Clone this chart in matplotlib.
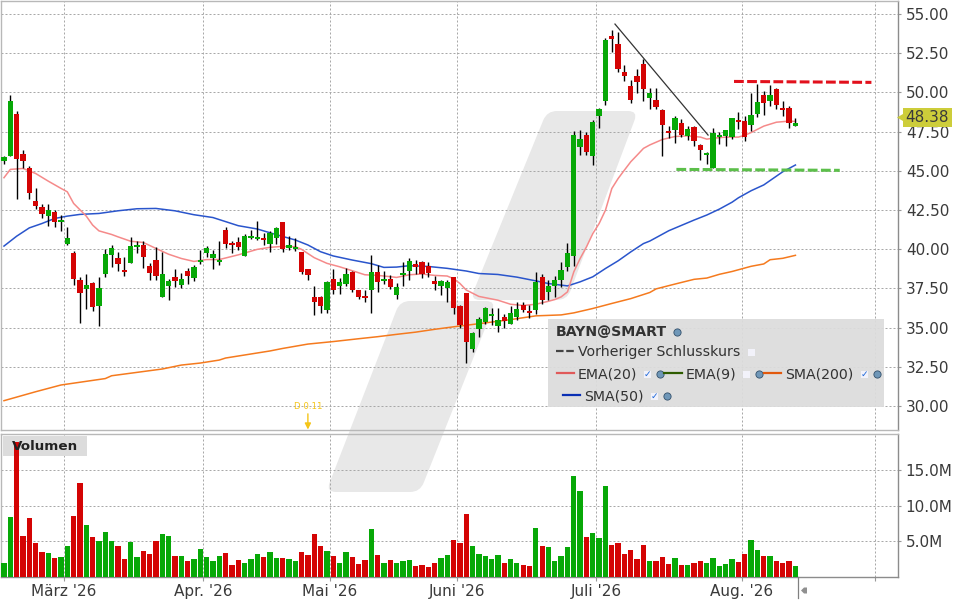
import matplotlib

matplotlib.use("Agg")
import matplotlib.pyplot as plt
from matplotlib.lines import Line2D
from matplotlib.patches import PathPatch, Polygon, Rectangle
from matplotlib.path import Path
from matplotlib.transforms import Affine2D

# candles, oldest first
opens = [45.62, 45.94, 48.62, 46.07, 45.15, 43.07, 42.68, 42.11, 42.36, 41.73,
         40.32, 39.75, 38.02, 37.45, 37.83, 36.36, 38.41, 39.62, 39.43, 38.66,
         39.11, 40.13, 40.26, 38.92, 39.30, 36.94, 37.64, 38.22, 37.70, 38.60,
         38.15, 39.17, 39.75, 39.43, 39.17, 41.21, 40.38, 40.45, 39.57, 40.71,
         40.65, 40.71, 40.33, 40.71, 41.74, 40.08, 39.99, 39.82, 38.74, 36.95,
         36.95, 36.12, 38.10, 37.65, 37.78, 38.54, 37.40, 37.01, 37.40, 38.54,
         37.97, 38.10, 37.08, 38.35, 38.61, 39.05, 39.18, 38.93, 37.97, 37.65,
         37.52, 38.23, 36.37, 37.20, 33.63, 34.91, 35.36, 35.73, 35.09, 35.66,
         35.22, 35.66, 36.43, 36.05, 36.11, 38.20, 37.26, 37.64, 38.02, 38.85,
         39.56, 46.51, 47.28, 45.94, 48.49, 49.45, 53.60, 53.09, 51.30, 50.41,
         51.05, 51.81, 49.64, 49.51, 48.87, 47.53, 47.59, 48.04, 47.21, 47.78,
         46.63, 46.00, 45.17, 47.15, 47.21, 47.15, 48.23, 48.17, 47.91, 48.61,
         49.83, 49.45, 50.21, 49.00, 49.00, 47.85]
highs = [45.94, 49.83, 48.81, 46.32, 45.30, 43.90, 42.87, 42.87, 42.49, 42.17,
         41.41, 39.88, 38.22, 38.41, 37.90, 38.22, 40.00, 40.26, 39.81, 39.49,
         40.77, 40.51, 40.51, 39.11, 40.13, 39.81, 38.09, 38.73, 38.47, 38.79,
         38.98, 39.94, 40.19, 39.94, 40.51, 41.41, 40.51, 40.77, 40.97, 41.23,
         41.80, 41.03, 41.16, 41.42, 41.74, 40.84, 40.71, 39.82, 38.74, 37.65,
         37.01, 37.97, 38.74, 38.16, 38.80, 38.61, 37.40, 37.40, 39.63, 38.99,
         38.61, 38.35, 37.84, 39.18, 39.44, 39.31, 39.25, 39.18, 38.29, 38.03,
         38.03, 38.23, 36.44, 37.20, 34.71, 35.67, 36.32, 36.24, 36.24, 35.85,
         36.36, 36.62, 36.62, 36.43, 38.53, 38.41, 38.02, 38.28, 39.17, 40.39,
         47.53, 47.60, 47.47, 48.24, 49.00, 53.47, 53.98, 53.85, 51.75, 50.79,
         51.49, 52.13, 50.28, 50.25, 48.93, 47.85, 48.49, 48.29, 47.85, 47.85,
         46.70, 46.19, 47.72, 47.46, 47.59, 48.36, 48.74, 48.49, 49.95, 50.53,
         50.08, 50.46, 50.27, 49.44, 49.12, 48.36]
lows = [45.43, 45.94, 43.22, 45.15, 43.22, 42.56, 41.98, 41.47, 41.41, 41.15,
        40.26, 37.70, 35.28, 36.17, 36.05, 35.09, 38.22, 38.85, 38.60, 38.28,
        39.11, 39.75, 38.79, 38.02, 38.02, 36.94, 36.75, 37.58, 37.51, 37.77,
        37.96, 39.04, 39.49, 38.73, 38.98, 40.07, 39.75, 39.94, 39.57, 40.65,
        40.59, 40.27, 39.82, 40.33, 39.82, 39.95, 39.88, 38.42, 38.03, 35.80,
        35.93, 35.93, 37.14, 37.14, 37.65, 37.27, 36.82, 36.63, 35.93, 37.27,
        37.78, 37.46, 36.82, 37.65, 38.03, 38.42, 38.16, 38.22, 37.40, 37.08,
        36.63, 35.86, 34.97, 32.74, 33.44, 34.39, 35.20, 35.15, 34.71, 34.96,
        35.22, 35.47, 35.98, 35.60, 35.85, 36.49, 36.75, 36.94, 37.58, 38.60,
        38.92, 46.00, 46.00, 45.36, 47.73, 49.19, 52.58, 51.30, 50.73, 49.32,
        49.96, 49.45, 48.94, 48.95, 45.93, 47.08, 46.76, 47.14, 46.95, 46.57,
        45.68, 45.42, 45.17, 46.70, 46.57, 47.02, 47.66, 46.89, 47.53, 48.42,
        48.55, 49.12, 48.93, 48.49, 47.72, 47.85]
closes = [45.88, 49.45, 45.77, 45.62, 43.60, 42.75, 42.24, 42.49, 41.73, 41.85,
          40.70, 38.09, 37.19, 37.70, 36.30, 37.51, 39.68, 40.07, 39.05, 38.54,
          40.19, 40.26, 39.49, 38.47, 38.28, 38.41, 37.96, 37.96, 38.09, 38.28,
          38.85, 39.30, 40.07, 39.68, 39.30, 40.32, 40.26, 40.13, 40.84, 40.84,
          40.78, 40.59, 41.03, 41.35, 40.01, 40.27, 40.14, 38.54, 38.35, 36.63,
          36.37, 37.91, 37.40, 37.91, 38.42, 37.40, 36.95, 36.89, 38.54, 37.91,
          38.10, 37.59, 37.59, 38.48, 39.25, 38.86, 38.42, 38.48, 37.78, 37.97,
          37.91, 36.25, 35.16, 34.08, 34.65, 35.54, 36.22, 35.85, 35.47, 35.41,
          35.92, 36.17, 36.11, 35.92, 37.94, 36.75, 37.64, 38.02, 38.66, 39.75,
          47.28, 47.02, 46.19, 48.11, 48.94, 53.34, 53.41, 51.49, 51.05, 49.51,
          50.66, 50.20, 49.96, 49.04, 47.91, 47.40, 48.36, 47.27, 47.66, 46.89,
          46.32, 46.12, 47.40, 47.27, 47.59, 48.36, 48.10, 47.15, 48.55, 49.38,
          49.32, 49.83, 49.19, 48.87, 48.04, 48.04]

# volume in millions
volumes = [1.96, 8.41, 19.07, 5.75, 8.27, 4.77, 3.50, 3.36, 2.66, 2.80,
           4.35, 8.55, 13.18, 7.29, 5.61, 5.05, 6.31, 5.05, 4.35, 2.52,
           4.91, 2.80, 3.64, 3.22, 5.05, 6.03, 5.75, 2.94, 2.94, 2.24,
           2.52, 3.93, 2.80, 2.24, 2.94, 3.36, 1.68, 2.38, 1.96, 2.52,
           3.22, 2.80, 3.50, 2.66, 2.66, 2.52, 2.24, 3.50, 3.08, 6.03,
           4.35, 3.64, 2.94, 1.96, 3.50, 2.80, 1.82, 2.38, 6.73, 3.08,
           1.96, 2.38, 1.96, 2.24, 2.38, 1.54, 1.68, 1.40, 1.96, 2.66,
           3.08, 5.19, 4.77, 8.83, 4.35, 3.22, 2.94, 2.52, 3.08, 1.96,
           2.52, 1.96, 1.68, 1.54, 6.87, 4.35, 4.21, 2.24, 2.94, 4.21,
           14.16, 12.06, 5.61, 6.17, 5.47, 12.76, 4.49, 4.77, 3.22, 3.79,
           2.52, 4.49, 2.24, 2.24, 2.80, 1.82, 2.66, 1.68, 1.68, 1.96,
           2.24, 1.96, 2.66, 1.54, 1.82, 2.52, 2.10, 3.22, 5.19, 3.79,
           2.94, 2.94, 2.24, 1.96, 2.24, 1.54]

# moving averages, read at some bars only
ema20_bars = [0, 1, 3, 5, 7, 9, 10, 11, 13, 14, 15, 17, 18, 20, 22, 24, 26, 28, 30, 32, 34, 37,
              40, 42, 44, 46, 47, 49, 51, 53, 55, 57, 59, 61, 62, 64, 66, 68, 70, 71, 72, 73, 75,
              78, 80, 82, 84, 86, 87, 88, 89, 90, 91, 92, 93, 94, 95, 96, 97, 98, 99, 100, 101,
              102, 104, 106, 108, 110, 111, 112, 114, 116, 117, 118, 120, 122, 124, 125]
ema20 = [44.56, 45.09, 45.15, 44.83, 44.34, 43.88, 43.66, 42.92, 42.11, 41.54, 41.17, 40.94, 40.79,
         40.51, 40.43, 40.05, 39.68, 39.41, 39.22, 39.34, 39.34, 39.64,
         39.99, 40.12, 40.18, 40.16, 39.99, 39.46, 39.10, 38.88, 38.63, 38.37, 38.33, 38.25, 38.20,
         38.37, 38.42, 38.33, 38.29, 38.12, 37.82, 37.40, 36.99,
         36.75, 36.49, 36.41, 36.49, 36.68, 36.79, 36.96, 37.28, 38.56, 39.41, 40.15, 41.00, 41.64,
         42.49, 43.87, 44.51, 45.05, 45.58, 46.00, 46.43,
         46.65, 47.00, 47.19, 47.23, 47.15, 47.02, 47.08, 47.15, 47.15, 47.27, 47.44, 47.85, 48.10,
         48.17, 48.15]
sma50_bars = [0, 2, 4, 6, 8, 10, 12, 15, 18, 21, 24, 27, 30, 33, 37,
              40, 43, 46, 48, 50, 52, 55, 58, 60, 62, 64, 67, 70, 73, 75,
              78, 81, 84, 86, 88, 89, 91, 93, 95, 97, 99, 101, 102,
              105, 109, 111, 113, 115, 116, 118, 120, 123, 125]
sma50 = [40.20, 40.83, 41.36, 41.64, 41.96, 42.11, 42.22, 42.28, 42.45, 42.58, 42.60, 42.45, 42.20,
         42.02, 41.50,
         41.29, 40.93, 40.59, 40.27, 39.84, 39.57, 39.31, 39.08, 38.84, 38.86, 38.95, 38.90, 38.78,
         38.61, 38.45,
         38.39, 38.22, 37.98, 37.81, 37.71, 37.66, 37.92, 38.24, 38.77, 39.26, 39.83, 40.36, 40.52,
         41.18, 41.86, 42.18, 42.56, 43.00, 43.28, 43.73, 44.10, 44.94, 45.37]
sma200_bars = [0, 5, 9, 16, 17, 25, 28, 31, 34, 35, 42, 44, 48, 52, 56, 59, 62, 65, 68, 71, 74, 76,
               80, 84, 88, 90, 93, 96, 99, 102, 103, 106, 109, 111, 113, 115, 117, 118, 120, 121,
               123, 125]
sma200 = [30.34, 30.91, 31.34, 31.75, 31.93, 32.36, 32.61, 32.74, 32.93, 33.06, 33.51, 33.67, 33.95,
          34.11, 34.29, 34.42, 34.57, 34.71, 34.89, 35.05, 35.20, 35.30,
          35.51, 35.75, 35.81, 35.94, 36.22, 36.54, 36.85, 37.24, 37.47, 37.78, 38.08, 38.16, 38.40,
          38.58, 38.80, 38.91, 39.06, 39.33, 39.42, 39.61]

last_price = 48.38
dividend_bar = 48

# drawn by hand on the chart
trend_bars = [96.5, 111.2]
trend_prices = [54.36, 47.28]
resist_bars = [115.3, 137.0]
resist_prices = [50.70, 50.64]
support_bars = [106.2, 132.0]
support_prices = [45.09, 45.03]

price_ticks = [30, 32.5, 35, 37.5, 40, 42.5, 45, 47.5, 50, 52.5, 55]
volume_ticks = [5, 10, 15]
volume_tick_labels = ["5.0M", "10.0M", "15.0M"]
month_bars = [9.5, 31.5, 51.5, 71.5, 93.5, 116.5, 137.5]
month_labels = ["März '26", "Apr. '26", "Mai '26", "Juni '26", "Juli '26", "Aug. '26", ""]

GREEN = "#07a807"
RED = "#d40404"
TEXT = "#3a3a3a"
FONT = 11.0
W, H = 960, 600

plt.rcParams["font.family"] = ["DejaVu Sans"]
fig = plt.figure(figsize=(W / 100, H / 100), dpi=100)

# overlay coordinates: image pixels, y going down
px = Affine2D().scale(1, -1).translate(0, H)


def axes_box(left, top, right, bottom):
    return [left / W, 1 - bottom / H, (right - left) / W, (bottom - top) / H]


def rounded(points, r=10):
    # closed polygon with rounded corners
    verts, codes = [], []
    n = len(points)
    for k in range(n):
        x0, y0 = points[k - 1]
        x1, y1 = points[k]
        x2, y2 = points[(k + 1) % n]
        d0 = ((x0 - x1) ** 2 + (y0 - y1) ** 2) ** 0.5
        d2 = ((x2 - x1) ** 2 + (y2 - y1) ** 2) ** 0.5
        a = (x1 + (x0 - x1) * r / d0, y1 + (y0 - y1) * r / d0)
        b = (x1 + (x2 - x1) * r / d2, y1 + (y2 - y1) * r / d2)
        verts += [a, (x1, y1), b]
        codes += [Path.MOVETO if k == 0 else Path.LINETO, Path.CURVE3, Path.CURVE3]
    verts.append(verts[0])
    codes.append(Path.CLOSEPOLY)
    return Path(verts, codes)


# grey logo behind everything
logo_shapes = [
    [(326, 492), (400, 301), (496, 301), (420, 492)],
    [(547, 111), (638, 111), (567, 300), (470, 300)],
]
for shape in logo_shapes:
    fig.add_artist(PathPatch(rounded(shape), transform=px, facecolor="#e8e8e8",
                             edgecolor="none", zorder=-1))

ax = fig.add_axes(axes_box(1, 1, 898, 430), facecolor="none")
ax_vol = fig.add_axes(axes_box(1, 434, 898, 577), facecolor="none")

bars = list(range(len(opens)))
up = [c >= o for o, c in zip(opens, closes)]
colors = [GREEN if u else RED for u in up]

for a in (ax, ax_vol):
    a.set_xlim(-0.47, 141.2)
    a.set_xticks(month_bars)
    a.grid(True, color="#a8a8a8", linewidth=0.72, linestyle=(0, (2, 2)))
    a.set_axisbelow(True)
    a.yaxis.tick_right()
    a.tick_params(axis="y", length=2, color="#999999", pad=3.6, labelsize=FONT, labelcolor=TEXT)
    a.tick_params(axis="x", length=3, color="#999999", labelcolor=TEXT, labelsize=FONT)
    for side in ("top", "left"):
        a.spines[side].set_color("#b8b8b8")
        a.spines[side].set_linewidth(1.0)
    for side in ("bottom", "right"):
        a.spines[side].set_color("#8c8c8c")
        a.spines[side].set_linewidth(1.0)

# price panel
ax.set_ylim(28.47, 55.83)
ax.set_yticks(price_ticks)
ax.set_yticklabels([f"{p:.2f}" for p in price_ticks])
ax.spines["bottom"].set_color("#b8b8b8")
ax.tick_params(axis="x", length=0, labelbottom=False)

ax.plot(sma200_bars, sma200, color="#f57a1e", linewidth=1.1, zorder=2)
ax.plot(sma50_bars, sma50, color="#2a55cc", linewidth=1.1, zorder=2)
ax.plot(ema20_bars, ema20, color="#f58a8a", linewidth=1.1, zorder=2)

ax.vlines(bars, lows, highs, color="black", linewidth=1.0, zorder=3)
ax.bar(bars, [abs(c - o) for o, c in zip(opens, closes)],
       bottom=[min(o, c) for o, c in zip(opens, closes)],
       width=0.84, color=colors, linewidth=0, zorder=4)

ax.plot(trend_bars, trend_prices, color="#333333", linewidth=0.9, zorder=5)
ax.plot(resist_bars, resist_prices, color="#e2101c", linewidth=2.2,
        dashes=(3.2, 1.1), dash_capstyle="butt", zorder=5)
ax.plot(support_bars, support_prices, color="#5cbf4a", linewidth=2.2,
        dashes=(3.2, 1.1), dash_capstyle="butt", zorder=5)

# dividend marker
ax.text(dividend_bar, 29.95, "D 0.11", color="#f5c518", fontsize=6.2, ha="center", va="center")
ax.annotate("", xy=(dividend_bar, 28.5), xytext=(dividend_bar, 29.5),
            arrowprops=dict(arrowstyle="-|>", color="#f5c518", linewidth=1.0,
                            shrinkA=0, shrinkB=0, mutation_scale=9))

# volume panel
ax_vol.set_ylim(0, 20.14)
ax_vol.set_yticks(volume_ticks)
ax_vol.set_yticklabels(volume_tick_labels)
ax_vol.set_xticklabels(month_labels)
ax_vol.tick_params(axis="x", pad=2.0)
ax_vol.add_patch(Rectangle((3, 436), 84, 20, transform=px, facecolor="#dcdcdc",
                           edgecolor="none", zorder=1))
ax_vol.bar(bars, volumes, width=0.84, color=colors, linewidth=0, zorder=3)
ax_vol.text(12, 446, "Volumen", transform=px, fontsize=9.7, fontweight="bold",
            color="#222222", va="center", zorder=5)

# current price badge
fig.add_artist(Polygon([(897, 117.5), (903, 114), (903, 108), (952, 108), (952, 127), (903, 127),
                        (903, 121)], closed=True, transform=px, facecolor="#cdcd3a",
                       edgecolor="none", zorder=4))
fig.text(905, 118, f"{last_price:.2f}", transform=px, fontsize=FONT, color=TEXT, va="center",
         zorder=5)

# end of data marker on the time axis
fig.add_artist(Line2D([798, 798], [577, 598], transform=px, color="#808080", linewidth=0.9))
fig.add_artist(Polygon([(801, 590.5), (804, 587.5), (807, 587.5), (807, 593.5), (804, 593.5)],
                       closed=True, transform=px, facecolor="#909090", edgecolor="none"))

# legend
fig.add_artist(Rectangle((548, 319), 336, 87.5, transform=px, facecolor="#dcdcdc",
                         edgecolor="none", alpha=0.93, zorder=4))


def legend_text(x, y, s, **kw):
    fig.text(x, y, s, transform=px, fontsize=10.2, color="#333333", va="center", zorder=6, **kw)


def legend_line(x0, x1, y, color, **kw):
    fig.add_artist(Line2D([x0, x1], [y, y], transform=px, color=color, linewidth=1.6, zorder=6, **kw))


def icon(x, y):
    fig.add_artist(Line2D([x], [y], transform=px, marker="o", markersize=5.2, color="#6f97b8",
                          markeredgecolor="#33506b", markeredgewidth=0.6, zorder=6))


def checkbox(x, y, checked=True):
    fig.add_artist(Rectangle((x - 3.5, y - 3.5), 7, 7, transform=px, facecolor="#f2f2fa",
                             edgecolor="none", zorder=6))
    if checked:
        fig.text(x, y, "✓", transform=px, fontsize=6.5, fontweight="bold", color="#1a66d8",
                 ha="center", va="center", zorder=7)


legend_text(556, 332, "BAYN@SMART", fontweight="bold")
icon(677, 332)
legend_line(556, 574, 351, "#444444", dashes=(3.4, 1.2))
legend_text(578, 352, "Vorheriger Schlusskurs")
checkbox(751, 352, checked=False)

legend_line(557, 574, 372.5, "#e05a5a")
legend_text(578, 374, "EMA(20)")
checkbox(647, 374)
icon(660, 374)
legend_line(664, 682, 372.5, "#2e5c00")
legend_text(686, 374, "EMA(9)")
checkbox(746, 374, checked=False)
icon(759, 374)
legend_line(764, 781, 372.5, "#e2590d")
legend_text(785, 374, "SMA(200)")
checkbox(864, 374)
icon(877, 374)

legend_line(563, 580, 394.5, "#0a30b4")
legend_text(584, 396, "SMA(50)")
checkbox(654, 396)
icon(667, 396)

fig.savefig("out.png", dpi=100)
